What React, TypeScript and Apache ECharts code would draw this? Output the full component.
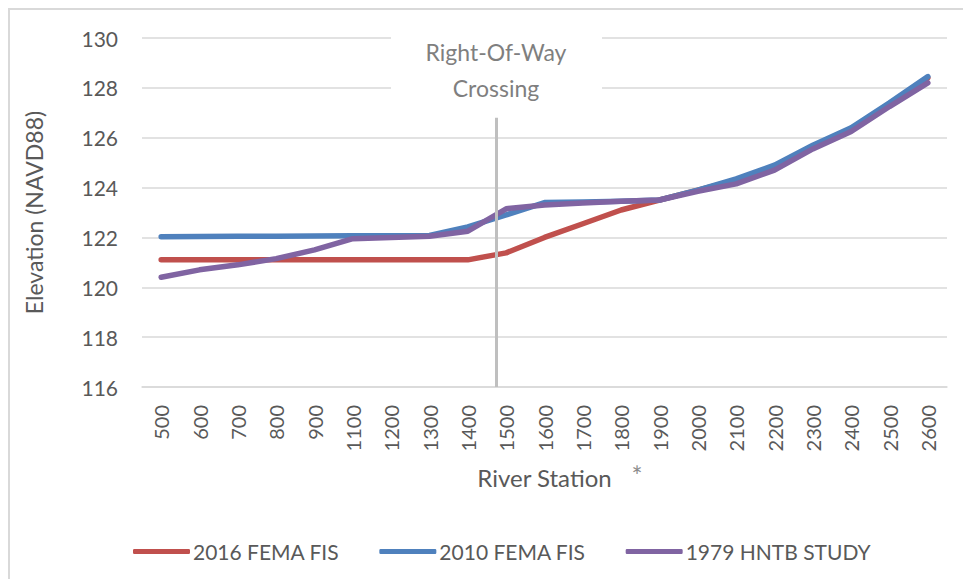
import React, { useEffect, useRef } from "react";
import * as echarts from "echarts";

const categories = ["500", "600", "700", "800", "900", "1100", "1200", "1300", "1400", "1500", "1600", "1700", "1800", "1900", "2000", "2100", "2200", "2300", "2400", "2500", "2600"];
const fema2016 = [121.1, 121.1, 121.1, 121.1, 121.1, 121.1, 121.1, 121.1, 121.1, 121.38, 122.0, 122.55, 123.1, 123.5, 123.9, 124.3, 124.85, 125.65, 126.35, 127.35, 128.4];
const fema2010 = [122.03, 122.04, 122.05, 122.05, 122.06, 122.07, 122.07, 122.08, 122.42, 122.9, 123.4, 123.42, 123.45, 123.5, 123.9, 124.35, 124.9, 125.7, 126.4, 127.4, 128.45];
const hntb1979 = [120.4, 120.7, 120.9, 121.15, 121.5, 121.95, 122.0, 122.05, 122.25, 123.15, 123.3, 123.38, 123.45, 123.5, 123.85, 124.15, 124.7, 125.55, 126.25, 127.25, 128.2];
const seriesNames = ["2016 FEMA FIS", "2010 FEMA FIS", "1979 HNTB STUDY"];
const crossingPos = 9.23; // position on 0..21 station scale
const crossingRange = [116, 126.8];

const FONT = "Lato";
const TXT = "#595959";

export default function App() {
  const ref = useRef<HTMLDivElement>(null);
  useEffect(() => {
    if (!ref.current) return;
    const chart = echarts.init(ref.current, undefined, { renderer: "svg" });
    chart.setOption({
      animation: false,
      backgroundColor: "#ffffff",
      textStyle: { fontFamily: FONT },
      grid: { left: 142, right: 16, top: 38, bottom: 192, containLabel: false },
      legend: {
        data: seriesNames,
        left: 128,
        top: 536,
        icon: "roundRect",
        itemWidth: 57,
        itemHeight: 5,
        itemGap: 40,
        textStyle: { fontFamily: FONT, fontSize: 21, color: TXT, padding: [0, 0, 0, -2] },
      },
      xAxis: [
        {
          type: "category",
          data: categories,
          boundaryGap: true,
          axisLine: { show: true, lineStyle: { color: "#d9d9d9", width: 1.5 } },
          axisTick: { show: false },
          axisLabel: { rotate: 90, margin: 18, fontFamily: FONT, fontSize: 20, color: TXT, interval: 0 },
          name: "River Station",
          nameLocation: "middle",
          nameGap: 78,
          nameTextStyle: { fontFamily: FONT, fontSize: 24, color: TXT },
        },
        { type: "value", min: 0, max: 21, show: false },
      ],
      yAxis: {
        type: "value",
        min: 116,
        max: 130,
        interval: 2,
        axisLine: { show: false },
        axisTick: { show: false },
        splitLine: { lineStyle: { color: "#d9d9d9", width: 1.5 } },
        axisLabel: { margin: 24, fontFamily: FONT, fontSize: 21, color: TXT },
        name: "Elevation (NAVD88)",
        nameLocation: "middle",
        nameGap: 97,
        nameTextStyle: { fontFamily: FONT, fontSize: 23, color: TXT },
      },
      series: [
        {
          name: seriesNames[0],
          type: "line",
          data: fema2016,
          symbol: "none",
          lineStyle: { color: "#C0504D", width: 5.5, cap: "round", join: "round" },
          itemStyle: { color: "#C0504D" },
        },
        {
          name: seriesNames[1],
          type: "line",
          data: fema2010,
          symbol: "none",
          lineStyle: { color: "#4F81BD", width: 5.5, cap: "round", join: "round" },
          itemStyle: { color: "#4F81BD" },
        },
        {
          name: seriesNames[2],
          type: "line",
          data: hntb1979,
          symbol: "none",
          lineStyle: { color: "#8064A2", width: 5.5, cap: "round", join: "round" },
          itemStyle: { color: "#8064A2" },
        },
        {
          name: "crossing",
          type: "line",
          xAxisIndex: 1,
          data: [],
          symbol: "none",
          markLine: {
            silent: true,
            symbol: "none",
            label: { show: false },
            lineStyle: { color: "#bfbfbf", width: 3, type: "solid" },
            data: [[{ coord: [crossingPos, crossingRange[0]] }, { coord: [crossingPos, crossingRange[1]] }]],
          },
        },
      ],
      graphic: [
        { type: "line", shape: { x1: 8, y1: 9, x2: 963, y2: 9 }, style: { stroke: "#d9d9d9", lineWidth: 2 } },
        { type: "line", shape: { x1: 9, y1: 9, x2: 9, y2: 579 }, style: { stroke: "#d9d9d9", lineWidth: 2 } },
        { type: "rect", z: 10, shape: { x: 391, y: 28, width: 211, height: 82 }, style: { fill: "#ffffff" } },
        {
          type: "text",
          z: 11,
          x: 496,
          y: 70,
          style: {
            text: "Right-Of-Way\nCrossing",
            fontFamily: FONT,
            fontSize: 23,
            lineHeight: 36,
            fill: "#7f7f7f",
            align: "center",
            verticalAlign: "middle",
          },
        },
        {
          type: "text",
          x: 637,
          y: 476,
          style: { text: "*", fontFamily: FONT, fontSize: 26, fill: "#8c8c8c", align: "center", verticalAlign: "middle" },
        },
      ],
    });
    return () => chart.dispose();
  }, []);
  return <div ref={ref} style={{ position: "fixed", left: 0, top: 0, width: 963, height: 579 }} />;
}
